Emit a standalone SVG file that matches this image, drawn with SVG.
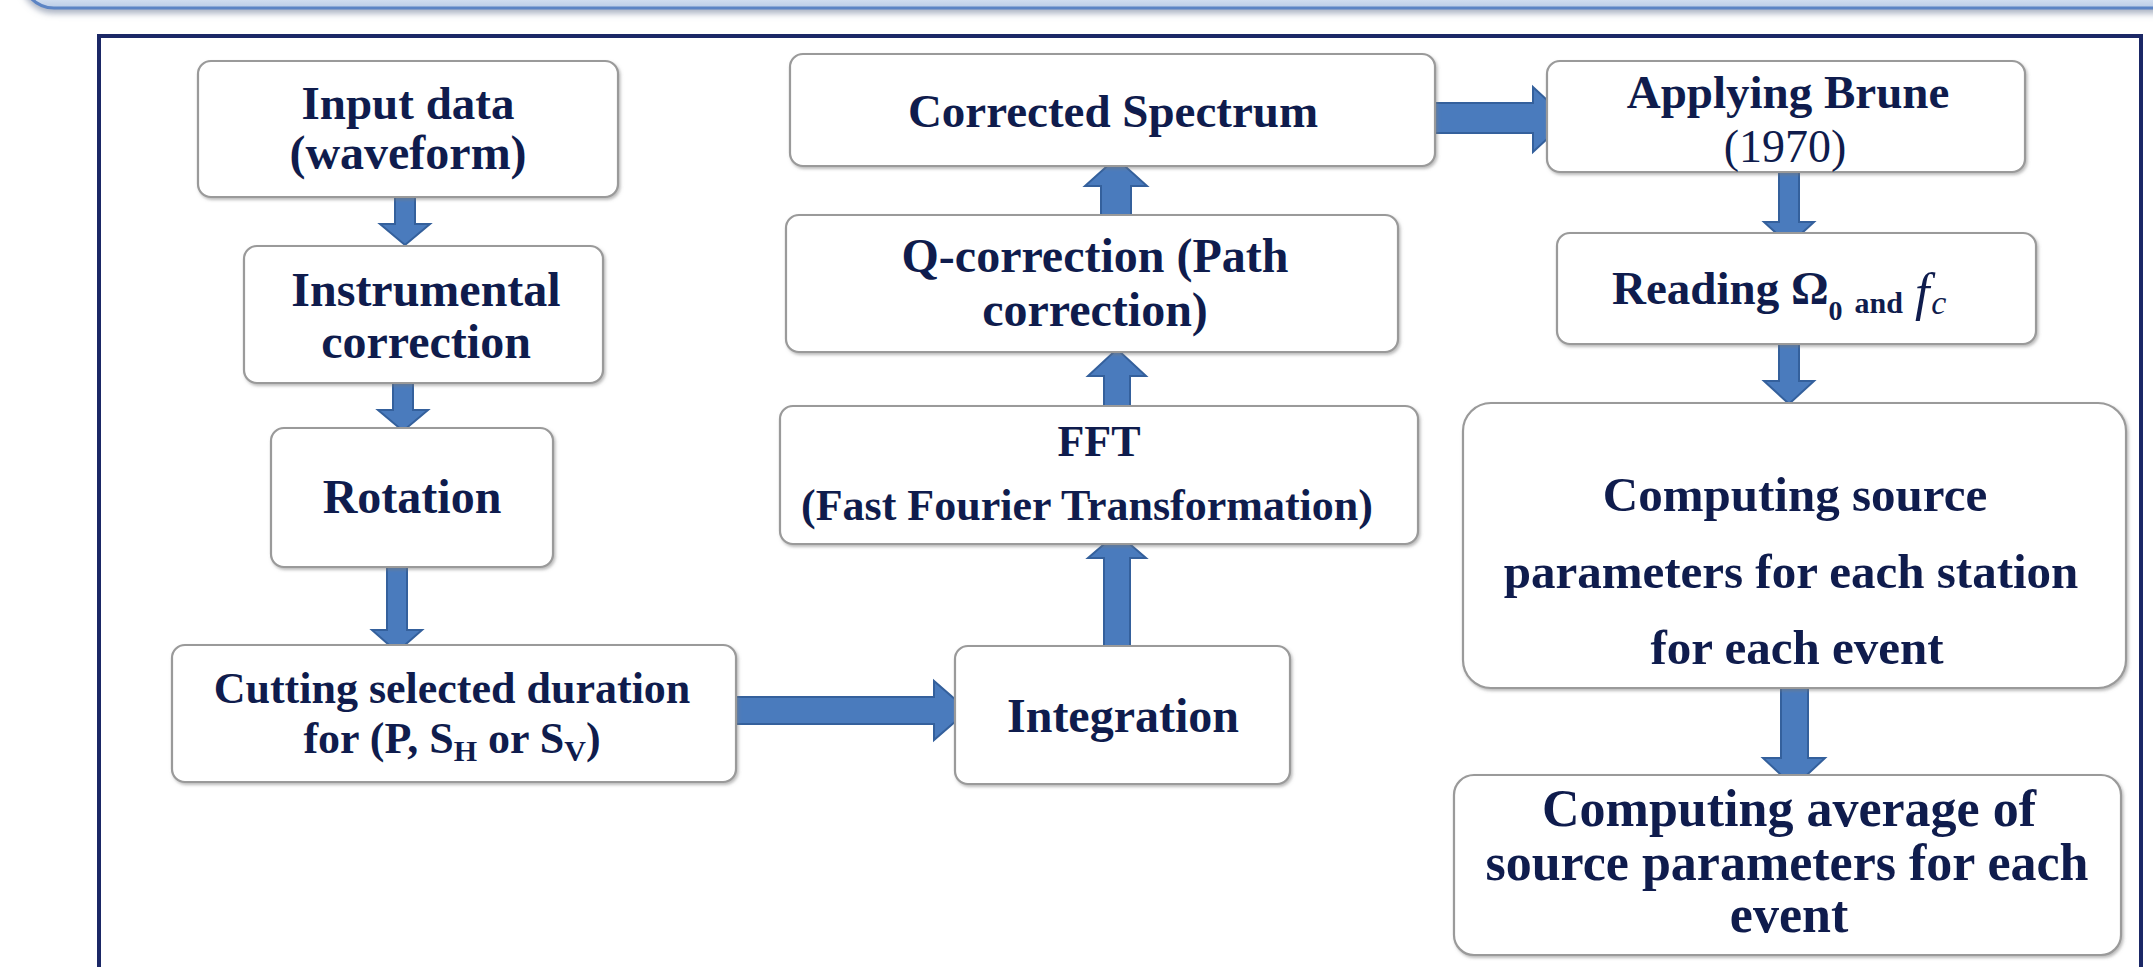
<svg xmlns="http://www.w3.org/2000/svg" width="2153" height="967" viewBox="0 0 2153 967">
<defs>
<style>
.box{fill:#ffffff;stroke:#9a9a9a;stroke-width:2.2;filter:url(#bsh)}
.t{font-family:"Liberation Serif","Times New Roman",serif;font-weight:bold;fill:#0f1c4d;text-anchor:middle}
.ts{font-family:"Liberation Serif","Times New Roman",serif;font-weight:bold;fill:#0f1c4d;text-anchor:start}
.it{font-weight:normal;font-style:italic}
.arr{fill:#4a7bbd;stroke:#34609c;stroke-width:2;stroke-linejoin:miter}
</style>
<linearGradient id="bg" x1="0" y1="0" x2="0" y2="1">
<stop offset="0" stop-color="#ffffff"/>
<stop offset="0.85" stop-color="#dfe8f5"/>
<stop offset="1" stop-color="#b9cbe6"/>
</linearGradient>
<filter id="bsh" x="-5%" y="-5%" width="110%" height="115%">
<feDropShadow dx="1.5" dy="2" stdDeviation="1.5" flood-color="#777777" flood-opacity="0.5"/>
</filter>
<filter id="tsh" x="-5%" y="-50%" width="110%" height="200%">
<feDropShadow dx="0" dy="4" stdDeviation="3" flood-color="#6f7f99" flood-opacity="0.6"/>
</filter>
</defs>
<rect width="2153" height="967" fill="#ffffff"/>
<rect x="22" y="-80" width="2200" height="88" rx="32" fill="url(#bg)" stroke="#5b84c4" stroke-width="3" filter="url(#tsh)"/>
<rect x="99" y="36" width="2042" height="980" fill="#ffffff" stroke="#1b2866" stroke-width="4"/>

<g id="connectors">
<polygon class="arr" points="395,197 415,197 415,224 430,224 405,245 380,224 395,224"/>
<polygon class="arr" points="393,383 413,383 413,410 428,410 403,431 378,410 393,410"/>
<polygon class="arr" points="387,567 407,567 407,630 422,630 397,652 372,630 387,630"/>
<polygon class="arr" points="736,697 934,697 934,681 968,710.5 934,740 934,724 736,724"/>
<polygon class="arr" points="1104,646 1130,646 1130,558 1146,558 1117,533 1088,558 1104,558"/>
<polygon class="arr" points="1104,406 1130,406 1130,376 1146,376 1117,349 1088,376 1104,376"/>
<polygon class="arr" points="1101,215 1131,215 1131,186 1147,186 1116,158 1085,186 1101,186"/>
<polygon class="arr" points="1433,103 1533,103 1533,87 1568,119.5 1533,152 1533,133 1433,133"/>
<polygon class="arr" points="1779,170 1799,170 1799,222 1814,222 1789,245 1764,222 1779,222"/>
<polygon class="arr" points="1779,344 1799,344 1799,381 1814,381 1789,404 1764,381 1779,381"/>
<polygon class="arr" points="1781,688 1808,688 1808,758 1825,758 1794,787 1763,758 1781,758"/>
</g>

<g id="n-input">
<rect class="box" x="198" y="61" width="420" height="136" rx="13"/>
<text class="t" x="408" y="119" font-size="47">Input data</text>
<text class="t" x="408" y="169" font-size="48">(waveform)</text>
</g>
<g id="n-instrumental">
<rect class="box" x="244" y="246" width="359" height="137" rx="13"/>
<text class="t" x="426" y="306" font-size="48">Instrumental</text>
<text class="t" x="426" y="358" font-size="48">correction</text>
</g>
<g id="n-rotation">
<rect class="box" x="271" y="428" width="282" height="139" rx="13"/>
<text class="t" x="412" y="513" font-size="48">Rotation</text>
</g>
<g id="n-cutting">
<rect class="box" x="172" y="645" width="564" height="137" rx="13"/>
<text class="t" x="452" y="703" font-size="44">Cutting selected  duration</text>
<text class="t" x="452" y="753" font-size="44">for (P, S<tspan font-size="30" dy="8">H</tspan><tspan dy="-8"> or S</tspan><tspan font-size="30" dy="8">V</tspan><tspan dy="-8">)</tspan></text>
</g>
<g id="n-integration">
<rect class="box" x="955" y="646" width="335" height="138" rx="13"/>
<text class="t" x="1123" y="732" font-size="48">Integration</text>
</g>
<g id="n-fft">
<rect class="box" x="780" y="406" width="638" height="138" rx="13"/>
<text class="t" x="1099" y="456" font-size="44">FFT</text>
<text class="t" x="1087" y="520" font-size="44">(Fast Fourier Transformation)</text>
</g>
<g id="n-qcorrection">
<rect class="box" x="786" y="215" width="612" height="137" rx="13"/>
<text class="t" x="1095" y="272" font-size="48">Q-correction (Path</text>
<text class="t" x="1095" y="326" font-size="48">correction)</text>
</g>
<g id="n-corrected">
<rect class="box" x="790" y="54" width="645" height="112" rx="13"/>
<text class="t" x="1113" y="127" font-size="47">Corrected Spectrum</text>
</g>
<g id="n-brune">
<rect class="box" x="1547" y="61" width="478" height="111" rx="13"/>
<text class="t" x="1788" y="108" font-size="47">Applying Brune</text>
<text class="t" x="1785" y="162" font-size="46" style="font-weight:normal">(1970)</text>
</g>
<g id="n-reading">
<rect class="box" x="1557" y="233" width="479" height="111" rx="13"/>
<text class="ts" x="1612" y="304" font-size="47">Reading Ω<tspan font-size="28" dy="16">0</tspan><tspan font-size="30" dx="12" dy="-7">and</tspan><tspan class="it" font-size="52" dx="12" dy="-3">f</tspan><tspan class="it" font-size="34" dx="2" dy="4">c</tspan></text>
</g>
<g id="n-computing">
<rect class="box" x="1463" y="403" width="663" height="285" rx="28"/>
<text class="t" x="1795" y="511" font-size="49">Computing source</text>
<text class="t" x="1791" y="588" font-size="49">parameters for each station</text>
<text class="t" x="1797" y="664" font-size="49">for each event</text>
</g>
<g id="n-average">
<rect class="box" x="1454" y="775" width="667" height="180" rx="20"/>
<text class="t" x="1789" y="826" font-size="52">Computing average of</text>
<text class="t" x="1787" y="880" font-size="52">source parameters  for each</text>
<text class="t" x="1789" y="932" font-size="52">event</text>
</g>
</svg>
